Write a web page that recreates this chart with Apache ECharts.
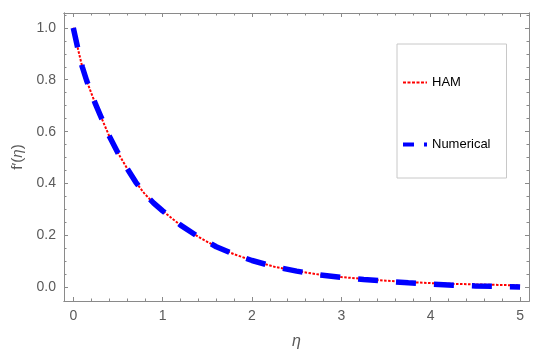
<!DOCTYPE html>
<html><head><meta charset="utf-8">
<script src="https://cdn.jsdelivr.net/npm/echarts@6/dist/echarts.min.js"></script>
<style>html,body{margin:0;padding:0;background:#fff}#c{width:550px;height:356px}</style>
</head><body><div id="c"></div>
<script>
const etaValues = [0, 0.05, 0.1, 0.15, 0.2, 0.25, 0.3, 0.4, 0.5, 0.6, 0.7, 0.8, 0.9, 1.0, 1.2, 1.4, 1.6, 1.8, 2.0, 2.25, 2.5, 2.75, 3.0, 3.25, 3.5, 3.75, 4.0, 4.25, 4.5, 4.75, 5.0];
const hamValues = [1.0, 0.922, 0.85, 0.796, 0.75, 0.705, 0.665, 0.585, 0.518, 0.46, 0.405, 0.36, 0.325, 0.295, 0.24, 0.195, 0.157, 0.128, 0.104, 0.08, 0.063, 0.05, 0.04, 0.033, 0.026, 0.021, 0.017, 0.014, 0.012, 0.01, 0.008];
const numericalValues = [1.0, 0.922, 0.85, 0.796, 0.75, 0.705, 0.665, 0.585, 0.518, 0.46, 0.405, 0.36, 0.325, 0.295, 0.24, 0.195, 0.157, 0.128, 0.104, 0.08, 0.063, 0.049, 0.039, 0.031, 0.024, 0.018, 0.013, 0.009, 0.006, 0.004, 0.002];
const xTickLabels = [0, 1, 2, 3, 4, 5];
const xMinorTicks = [0.2, 0.4, 0.6, 0.8, 1.2, 1.4, 1.6, 1.8, 2.2, 2.4, 2.6, 2.8, 3.2, 3.4, 3.6, 3.8, 4.2, 4.4, 4.6, 4.8];
const yTickLabels = [0, 0.2, 0.4, 0.6, 0.8, 1.0];
const yMinorTicks = [0.05, 0.1, 0.15, 0.25, 0.3, 0.35, 0.45, 0.5, 0.55, 0.65, 0.7, 0.75, 0.85, 0.9, 0.95, 1.05];

const X_MIN = -0.104, X_MAX = 5.1, Y_MIN = -0.052, Y_MAX = 1.057;
const FRAME = '#8a8a8a';
const FONT = '"Liberation Sans", Arial, sans-serif';
const LABEL = '#5a5a5a';

function axis(kind, pos, ticks, len, labels, extra) {
  const a = {
    type: 'value', position: pos,
    min: kind === 'x' ? X_MIN : Y_MIN, max: kind === 'x' ? X_MAX : Y_MAX,
    axisLine: { show: true, onZero: false, lineStyle: { color: FRAME, width: 1 } },
    axisTick: { show: true, inside: true, length: len, customValues: ticks, lineStyle: { color: FRAME, width: 1 } },
    axisLabel: labels ? {
      show: true, customValues: labels, margin: 8, color: LABEL, fontSize: 14, fontFamily: FONT,
      formatter: v => kind === 'x' ? String(Math.round(v)) : Number(v).toFixed(1)
    } : { show: false },
    splitLine: { show: false }
  };
  return Object.assign(a, extra || {});
}

const chart = echarts.init(document.getElementById('c'));
chart.setOption({
  animation: false,
  backgroundColor: '#fff',
  grid: { left: 64, top: 13, right: 21, bottom: 55, containLabel: false },
  xAxis: [
    axis('x', 'bottom', xTickLabels, 4, xTickLabels, {
      name: 'η', nameLocation: 'middle', nameGap: 33,
      nameTextStyle: { color: LABEL, fontSize: 16, fontStyle: 'italic', fontFamily: FONT }
    }),
    axis('x', 'bottom', xMinorTicks, 2.5, null),
    axis('x', 'top', xTickLabels, 4, null),
    axis('x', 'top', xMinorTicks, 2.5, null)
  ],
  yAxis: [
    axis('y', 'left', yTickLabels, 4, yTickLabels, {
      name: '{a|f′(}{b|η}{a|)}', nameLocation: 'middle', nameGap: 28, nameRotate: 90,
      nameTextStyle: {
        color: LABEL, fontSize: 15, fontFamily: FONT,
        rich: { a: { color: LABEL, fontSize: 15, fontFamily: FONT }, b: { color: LABEL, fontSize: 15, fontStyle: 'italic', fontFamily: FONT } }
      }
    }),
    axis('y', 'left', yMinorTicks, 2.5, null),
    axis('y', 'right', yTickLabels, 4, null),
    axis('y', 'right', yMinorTicks, 2.5, null)
  ],
  legend: {
    orient: 'vertical', left: 397, top: 44,
    padding: [32, 16, 27, 4],
    itemWidth: 24, itemHeight: 14, itemGap: 49,
    borderColor: '#c8c8c8', borderWidth: 1, backgroundColor: '#fff',
    textStyle: { color: '#000', fontSize: 13, fontFamily: FONT },
    data: [
      { name: 'HAM', itemStyle: { opacity: 0 }, lineStyle: { type: [3, 1.5], width: 2, color: '#ff0000' } },
      { name: 'Numerical', itemStyle: { opacity: 0 }, lineStyle: { type: [11, 10], width: 4, color: '#0000ff' } }
    ]
  },
  series: [
    {
      name: 'HAM', type: 'line', xAxisIndex: 0, yAxisIndex: 0,
      data: etaValues.map((x, i) => [x, hamValues[i]]),
      symbol: 'none', smooth: false, z: 2,
      lineStyle: { color: '#ff0000', width: 2, type: [2.5, 1.5] }, itemStyle: { color: '#ff0000' }
    },
    {
      name: 'Numerical', type: 'line', xAxisIndex: 0, yAxisIndex: 0,
      data: etaValues.map((x, i) => [x, numericalValues[i]]),
      symbol: 'none', smooth: false, z: 3,
      lineStyle: { color: '#0000ff', width: 5.5, type: [20, 18], cap: 'butt' }, itemStyle: { color: '#0000ff' }
    }
  ]
});
</script>
</body></html>
